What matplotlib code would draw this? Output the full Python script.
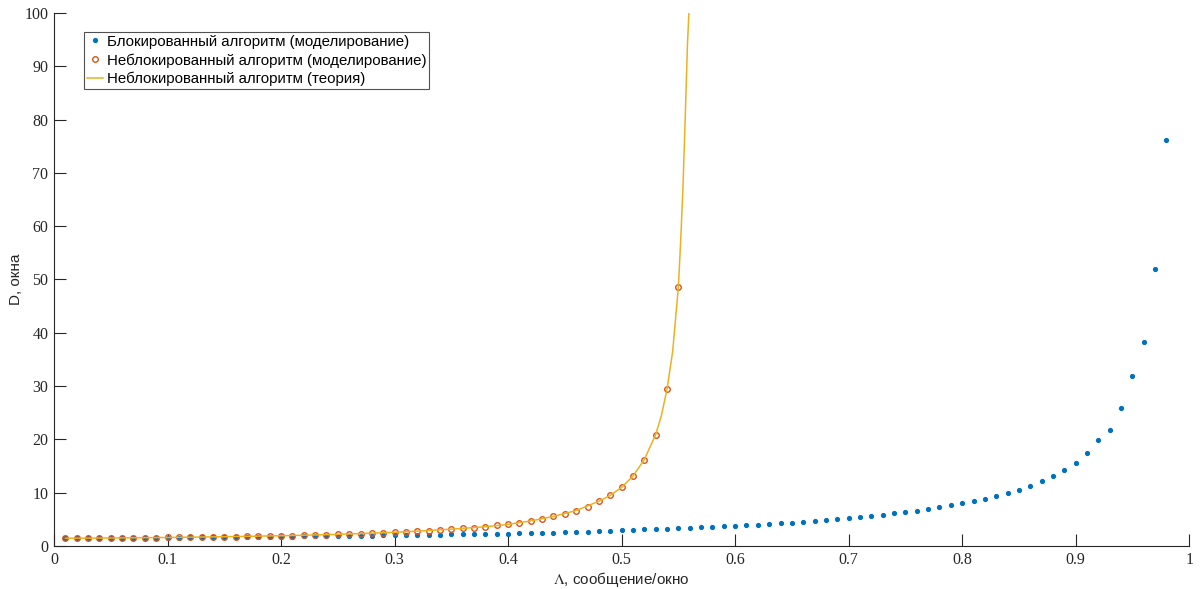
import numpy as np
import matplotlib
matplotlib.use('Agg')
import matplotlib.pyplot as plt

plt.rcParams.update({
    'font.family': ['Liberation Sans', 'DejaVu Sans'],
    'mathtext.fontset': 'stix',
    'axes.linewidth': 0.8,
})

# blocking algorithm (simulation), lambda = 0.01 .. 0.98
lam_block = [round(0.01 * i, 2) for i in range(1, 99)]
d_block = [1.45, 1.46, 1.47, 1.48, 1.49, 1.50, 1.52, 1.53, 1.55, 1.57,
           1.58, 1.60, 1.62, 1.64, 1.66, 1.68, 1.70, 1.72, 1.74, 1.76,
           1.78, 1.80, 1.83, 1.85, 1.88, 1.90, 1.93, 1.96, 1.99, 2.02,
           2.05, 2.08, 2.11, 2.14, 2.17, 2.20, 2.23, 2.27, 2.30, 2.34,
           2.38, 2.42, 2.47, 2.52, 2.57, 2.66, 2.72, 2.76, 2.88, 2.95,
           3.00, 3.10, 3.18, 3.22, 3.30, 3.40, 3.50, 3.60, 3.70, 3.80,
           3.90, 3.95, 4.15, 4.25, 4.40, 4.50, 4.70, 4.90, 5.05, 5.25,
           5.40, 5.70, 5.90, 6.10, 6.30, 6.60, 6.90, 7.30, 7.60, 8.00,
           8.50, 8.80, 9.30, 10.0, 10.6, 11.25, 12.2, 13.1, 14.3, 15.5,
           17.5, 19.9, 21.8, 25.9, 31.8, 38.3, 52.0, 76.2]

# non-blocking algorithm (simulation), lambda = 0.01 .. 0.55
lam_nonblock = [round(0.01 * i, 2) for i in range(1, 56)]
d_nonblock = [1.45, 1.46, 1.47, 1.48, 1.50, 1.52, 1.54, 1.55, 1.57, 1.60,
              1.62, 1.65, 1.68, 1.71, 1.74, 1.77, 1.80, 1.84, 1.88, 1.92,
              1.96, 2.01, 2.06, 2.12, 2.18, 2.25, 2.32, 2.40, 2.48, 2.57,
              2.67, 2.78, 2.90, 3.03, 3.15, 3.30, 3.45, 3.62, 3.85, 4.05,
              4.35, 4.70, 5.10, 5.55, 6.00, 6.65, 7.30, 8.40, 9.50, 11.0,
              13.1, 16.2, 20.9, 29.4, 48.6]

# non-blocking algorithm (theory)
lam_theory = [0.01, 0.05, 0.10, 0.15, 0.20, 0.25, 0.30, 0.33, 0.36, 0.38,
              0.40, 0.42, 0.44, 0.46, 0.48, 0.49, 0.50, 0.51, 0.52, 0.53,
              0.535, 0.54, 0.545, 0.55, 0.552, 0.554, 0.556, 0.558, 0.5595]
d_theory = [1.45, 1.50, 1.60, 1.74, 1.92, 2.18, 2.57, 2.90, 3.30, 3.62,
            4.05, 4.70, 5.55, 6.65, 8.40, 9.50, 11.0, 13.1, 16.2, 20.9,
            24.4, 29.4, 36.5, 48.6, 57.0, 67.0, 80.0, 94.0, 101.0]

fig = plt.figure(figsize=(12, 5.89), dpi=100)
ax = fig.add_axes([0.045, 0.073, 0.946, 0.905])

ax.plot(lam_block, d_block, '.', color='#0072BD', markersize=5.5,
        label='Блокированный алгоритм (моделирование)')
ax.plot(lam_nonblock, d_nonblock, 'o', color='#D95319', markerfacecolor='none',
        markersize=4, markeredgewidth=1.0,
        label='Неблокированный алгоритм (моделирование)')
ax.plot(lam_theory, d_theory, '-', color='#EDB120', lw=1.1,
        label='Неблокированный алгоритм (теория)')

ax.set_xlim(0, 1)
ax.set_ylim(0, 100)
ax.set_xticks(np.arange(0, 1.01, 0.1))
ax.set_xticklabels(['0', '0.1', '0.2', '0.3', '0.4', '0.5', '0.6', '0.7', '0.8', '0.9', '1'])
ax.set_yticks(np.arange(0, 101, 10))
for lab in ax.get_xticklabels() + ax.get_yticklabels():
    lab.set_family(['Liberation Serif', 'DejaVu Serif'])
    lab.set_fontsize(11.5)
    lab.set_color('#262626')
ax.tick_params(direction='in', length=8.5, width=0.8, colors='#262626', pad=4)
for side in ('top', 'right'):
    ax.spines[side].set_visible(False)
for side in ('left', 'bottom'):
    ax.spines[side].set_color('#262626')

ax.set_xlabel(r'$\Lambda$, сообщение/окно', fontsize=11, color='#262626', labelpad=2)
ax.set_ylabel('D, окна', fontsize=11, color='#262626', labelpad=1)

leg = ax.legend(loc='upper left', bbox_to_anchor=(0.026, 0.965), fontsize=10.8,
                frameon=True, fancybox=False, edgecolor='#262626',
                handlelength=1.1, handletextpad=0.25, borderpad=0.2,
                labelspacing=0.3, borderaxespad=0)
leg.get_frame().set_linewidth(0.8)

fig.savefig('out.png', dpi=100)
